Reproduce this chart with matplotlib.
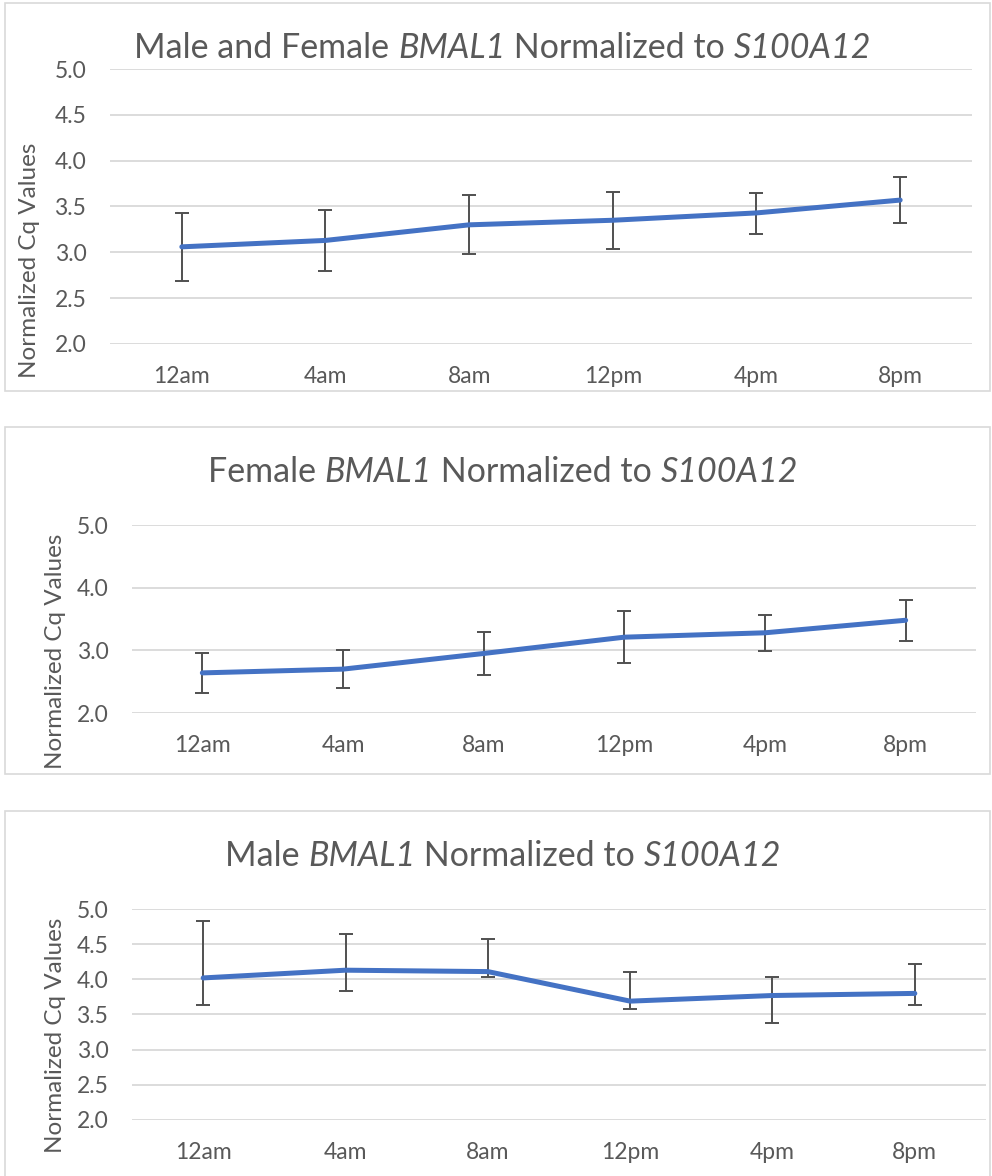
import numpy as np
import matplotlib
matplotlib.use("Agg")
import matplotlib.pyplot as plt
from matplotlib.patches import Rectangle

# data
times = ["12am", "4am", "8am", "12pm", "4pm", "8pm"]

both_mean = [3.06, 3.13, 3.30, 3.35, 3.43, 3.57]
both_hi = [3.43, 3.46, 3.62, 3.66, 3.65, 3.82]
both_lo = [2.69, 2.80, 2.98, 3.04, 3.20, 3.32]

fem_mean = [2.64, 2.70, 2.95, 3.21, 3.28, 3.48]
fem_hi = [2.96, 3.00, 3.30, 3.62, 3.56, 3.80]
fem_lo = [2.32, 2.40, 2.60, 2.79, 2.99, 3.15]

male_mean = [4.02, 4.13, 4.11, 3.69, 3.77, 3.80]
male_hi = [4.83, 4.65, 4.57, 4.10, 4.03, 4.22]
male_lo = [3.64, 3.84, 4.04, 3.58, 3.38, 3.64]

# title pieces: (text, italic?)
titles = [
    [("Male and Female ", False), ("BMAL1", True), (" Normalized to ", False), ("S100A12", True)],
    [("Female ", False), ("BMAL1", True), (" Normalized to ", False), ("S100A12", True)],
    [("Male ", False), ("BMAL1", True), (" Normalized to ", False), ("S100A12", True)],
]
ytick_steps = [0.5, 1.0, 0.5]

plt.rcParams["font.family"] = ["Lato", "DejaVu Sans"]

W, H = 992, 1176
TXT = "#595959"
BLUE = "#4472C4"
GRID = "#d9d9d9"

fig = plt.figure(figsize=(W / 100, H / 100), dpi=100)
renderer = fig.canvas.get_renderer()


def fx(px):
    return px / W


def fy(py):
    return 1 - py / H


def mixed_title(pieces, cx, base_y, size):
    # lay out roman / italic pieces side by side, centred on cx (pixels)
    texts = []
    widths = []
    for s, it in pieces:
        t = fig.text(0, fy(base_y), s, fontsize=size, color=TXT, va="baseline",
                     ha="left", style="italic" if it else "normal")
        widths.append(t.get_window_extent(renderer).width)
        texts.append(t)
    x = cx - sum(widths) / 2
    for t, w in zip(texts, widths):
        t.set_x(fx(x))
        x += w


# layout in pixels: (box top, box bottom, axes left, axes right, y5 px, y2 px, title baseline, ylabel x, ylabel y)
layouts = [
    (3, 391, 110, 972, 69, 344, 58, 30, 260),
    (427, 774, 132, 976, 525, 713, 482, 55, 651),
    (811, 1200, 132, 986, 909, 1120, 866, 55, 1035),
]
series = [
    (both_mean, both_lo, both_hi),
    (fem_mean, fem_lo, fem_hi),
    (male_mean, male_lo, male_hi),
]

for (btop, bbot, al, ar, yt, yb, tb, lx, ly), (m, lo, hi), title, step in zip(
    layouts, series, titles, ytick_steps
):
    # chart border
    fig.add_artist(Rectangle((fx(5), fy(bbot)), fx(985), (bbot - btop) / H,
                             transform=fig.transFigure, fill=False,
                             edgecolor="#d9d9d9", linewidth=1.2))

    ax = fig.add_axes([fx(al), fy(yb), fx(ar - al), (yb - yt) / H])
    x = np.arange(len(times))
    m = np.array(m)
    yerr = np.vstack([m - np.array(lo), np.array(hi) - m])
    ax.errorbar(x, m, yerr=yerr, fmt="none", ecolor="#505050",
                elinewidth=1.4, capsize=5, capthick=1.4, zorder=2)
    ax.plot(x, m, color=BLUE, linewidth=3.6, solid_capstyle="round", zorder=3)

    ax.set_xlim(-0.5, len(times) - 0.5)
    ax.set_ylim(2.0, 5.0)
    yt_vals = np.arange(2.0, 5.0 + 1e-9, step)
    ax.set_yticks(yt_vals)
    ax.set_yticklabels([f"{v:.1f}" for v in yt_vals])
    ax.set_xticks(x)
    ax.set_xticklabels(times)
    ax.grid(axis="y", color=GRID, linewidth=1.3)
    ax.set_axisbelow(True)
    for s in ax.spines.values():
        s.set_visible(False)
    ax.tick_params(axis="both", length=0, labelsize=16.5, labelcolor=TXT)
    ax.tick_params(axis="x", pad=16)
    ax.tick_params(axis="y", pad=17)

    mixed_title(title, 503, tb, 24.5)
    fig.text(fx(lx), fy(ly), "Normalized Cq Values", rotation=90,
             ha="center", va="center", fontsize=17.5, color=TXT)

fig.savefig("out.png", dpi=100)
